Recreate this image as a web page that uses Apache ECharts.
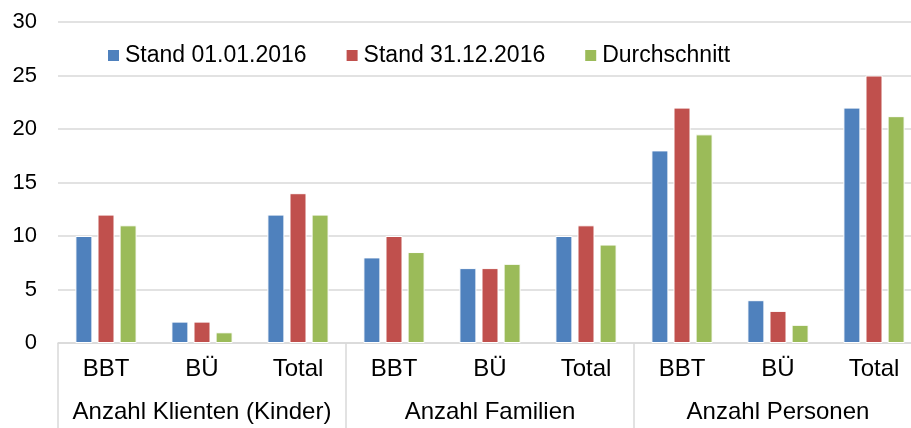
<!DOCTYPE html>
<html>
<head>
<meta charset="utf-8">
<script src="https://cdn.jsdelivr.net/npm/echarts@6/dist/echarts.min.js"></script>
<style>
  html, body { margin: 0; padding: 0; background: #fff; }
  #chart { width: 911px; height: 428px; }
</style>
</head>
<body>
<div id="chart"></div>
<script>
// Kategorien (zwei Ebenen)
const subCategories = ['BBT', 'BÜ', 'Total', 'BBT', 'BÜ', 'Total', 'BBT', 'BÜ', 'Total']
const groups = ['Anzahl Klienten (Kinder)', 'Anzahl Familien', 'Anzahl Personen']

// Werte
const stand0101 = [10, 2, 12, 8, 7, 10, 18, 4, 22]
const stand3112 = [12, 2, 14, 10, 7, 11, 22, 3, 25]
const durchschnitt = [11, 1, 12, 8.5, 7.4, 9.2, 19.5, 1.7, 21.2]

const yTicks = { min: 0, max: 30, interval: 5 }

const font = 'Liberation Sans, Arial, sans-serif'
const gridColor = '#d9d9d9'

const chart = echarts.init(document.getElementById('chart'))

const barSeries = (name, data, color) => ({
  name: name,
  type: 'bar',
  xAxisIndex: 0,
  data: data,
  barWidth: 17,
  barGap: '30%',
  itemStyle: { color: color, borderColor: '#fff', borderWidth: 1 }
})

chart.setOption({
  animation: false,
  textStyle: { fontFamily: font },
  // Plotfläche reicht rechts etwas über den Bildrand hinaus
  grid: { left: 58, width: 864, top: 22, height: 321, outerBoundsMode: 'none', containLabel: false },
  legend: {
    left: 101,
    top: 39,
    itemWidth: 13,
    itemHeight: 13,
    itemGap: 38,
    icon: 'rect',
    textStyle: { fontSize: 23, color: '#000', fontFamily: font },
    data: ['Stand 01.01.2016', 'Stand 31.12.2016', 'Durchschnitt']
  },
  xAxis: [
    {
      type: 'category',
      position: 'bottom',
      data: subCategories,
      axisLine: { show: true, lineStyle: { color: gridColor, width: 1.5 } },
      axisTick: { show: false },
      axisLabel: { fontSize: 24, color: '#000', margin: 14, interval: 0 }
    },
    {
      type: 'category',
      position: 'bottom',
      data: groups,
      axisLine: { show: false },
      axisTick: { show: true, length: 90, interval: 0, lineStyle: { color: gridColor, width: 1.5 } },
      axisLabel: { fontSize: 24, color: '#000', margin: 57, interval: 0 }
    }
  ],
  yAxis: {
    type: 'value',
    min: yTicks.min,
    max: yTicks.max,
    interval: yTicks.interval,
    axisLine: { show: false },
    axisTick: { show: false },
    axisLabel: { fontSize: 22, color: '#000', margin: 21 },
    splitLine: { lineStyle: { color: gridColor, width: 1.5 } }
  },
  series: [
    barSeries('Stand 01.01.2016', stand0101, '#4F81BD'),
    barSeries('Stand 31.12.2016', stand3112, '#C0504D'),
    barSeries('Durchschnitt', durchschnitt, '#9BBB59')
  ]
})
</script>
</body>
</html>
